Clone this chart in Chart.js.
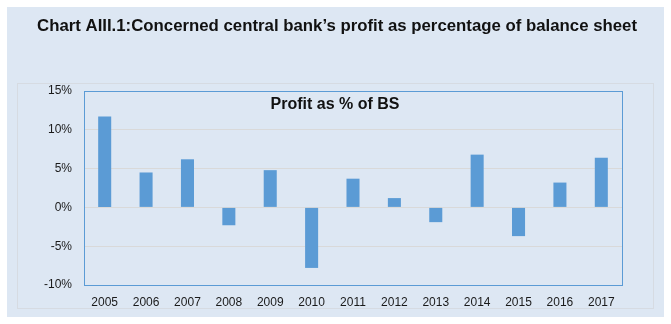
<!DOCTYPE html>
<html>
<head>
<meta charset="utf-8">
<script src="https://cdn.jsdelivr.net/npm/chart.js@4"></script>
<style>
  body { margin: 0; background: #ffffff; }
  canvas { display: block; }
</style>
</head>
<body>
<canvas id="chartCanvas" width="671" height="324"></canvas>
<script>
// values
const years = ["2005", "2006", "2007", "2008", "2009", "2010", "2011", "2012", "2013", "2014", "2015", "2016", "2017"];
const profitPct = [11.7, 4.5, 6.2, -2.3, 4.8, -7.8, 3.7, 1.2, -1.9, 6.8, -3.7, 3.2, 6.4];
const yTicks = [-10, -5, 0, 5, 10, 15];

const chartTitle = "Chart AIII.1:Concerned central bank\u2019s profit as percentage of balance sheet";
const seriesTitle = "Profit as % of BS";

const FONT = "'Liberation Sans', Arial, sans-serif";

// panel background, inner frame, titles and plot border
const panelPlugin = {
  id: "panel",
  beforeDraw(chart) {
    const ctx = chart.ctx;
    ctx.save();
    ctx.fillStyle = "#dde7f3";
    ctx.fillRect(7, 7, 657, 310);
    ctx.strokeStyle = "#d6dbe2";
    ctx.lineWidth = 1;
    ctx.strokeRect(17.5, 83.5, 636, 225);
    ctx.fillStyle = "#111111";
    ctx.font = "bold 16.8px " + FONT;
    ctx.textAlign = "center";
    ctx.textBaseline = "middle";
    ctx.fillText(chartTitle, 337, 26);
    ctx.restore();
  },
  afterDraw(chart) {
    const ctx = chart.ctx;
    const a = chart.chartArea;
    ctx.save();
    ctx.strokeStyle = "#5b9bd5";
    ctx.lineWidth = 1;
    ctx.strokeRect(Math.round(a.left) + 0.5, Math.round(a.top) + 0.5, Math.round(a.right - a.left), Math.round(a.bottom - a.top));
    ctx.fillStyle = "#111111";
    ctx.font = "bold 16px " + FONT;
    ctx.textAlign = "center";
    ctx.textBaseline = "middle";
    ctx.fillText(seriesTitle, 335, a.top + 14);
    ctx.restore();
  }
};

const ctx = document.getElementById("chartCanvas").getContext("2d");

new Chart(ctx, {
  type: "bar",
  data: {
    labels: years,
    datasets: [
      {
        label: seriesTitle,
        data: profitPct,
        backgroundColor: "#5b9bd5",
        borderWidth: 0,
        barPercentage: 0.5,
        categoryPercentage: 0.63,
      },
    ],
  },
  options: {
    responsive: false,
    animation: false,
    layout: {
      padding: { left: 0, right: 49, top: 91, bottom: 14 },
    },
    plugins: {
      legend: { display: false },
      tooltip: { enabled: false },
      title: { display: false },
    },
    scales: {
      x: {
        grid: { display: false },
        border: { display: false },
        ticks: {
          color: "#1a1a1a",
          font: { family: FONT, size: 12 },
          padding: 2,
          maxRotation: 0,
        },
        afterFit(scale) {
          scale.height = 25;
        },
      },
      y: {
        min: -10,
        max: 15,
        afterBuildTicks(scale) {
          scale.ticks = yTicks.map(v => ({ value: v }));
        },
        grid: { color: "#d9d9d9", drawTicks: false },
        border: { display: false },
        ticks: {
          color: "#1a1a1a",
          font: { family: FONT, size: 12 },
          padding: 12,
          callback: v => v + "%",
        },
        afterFit(scale) {
          scale.width = 84;
        },
      },
    },
  },
  plugins: [panelPlugin],
});
</script>
</body>
</html>
